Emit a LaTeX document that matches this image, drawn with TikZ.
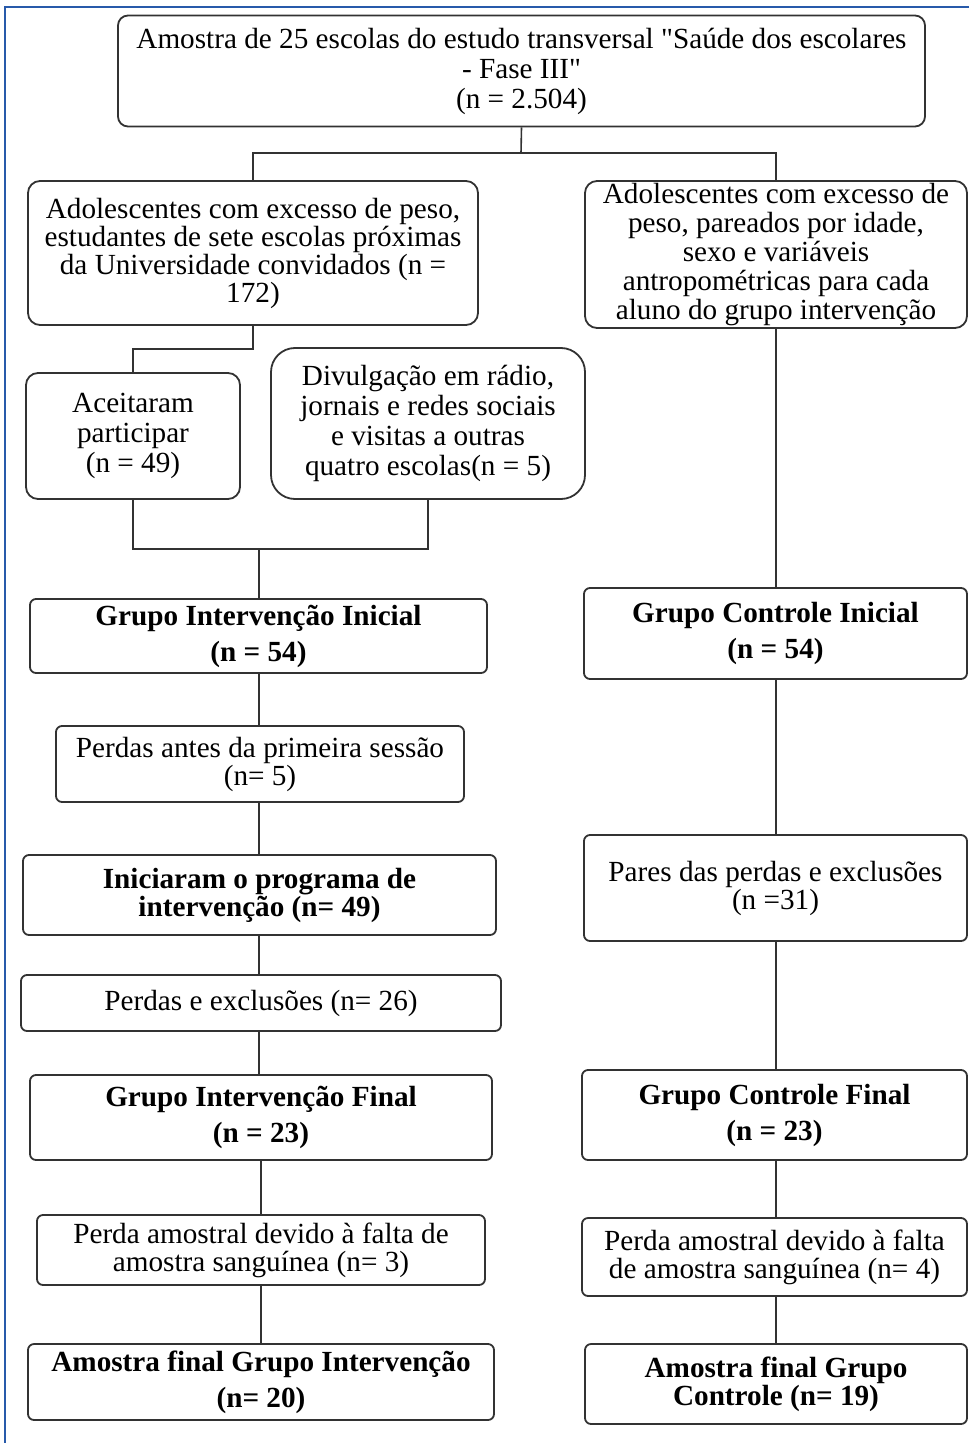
\documentclass[tikz,border=0pt]{standalone}
\usepackage{fontspec}
\setmainfont{Liberation Serif}[Ligatures=TeXOff]
\usetikzlibrary{positioning,calc}
\definecolor{frameblue}{RGB}{40,90,170}
\definecolor{edge}{RGB}{50,50,50}

\begin{document}
\begin{tikzpicture}[
    x=0.5pt, y=-0.5pt,
    box/.style={draw=edge, rounded corners=3pt, line width=0.9pt, align=center, inner sep=1pt, font=\fontsize{14.6}{14}\selectfont},
    bbox/.style={box, font=\fontsize{14.6}{14}\selectfont\bfseries},
    conn/.style={draw=edge, line width=0.8pt},
    frame/.style={draw=frameblue, line width=1pt},
]
\useasboundingbox (0,0) rectangle (969,1443);
\draw[frame] (969,7) -- (5,7) -- (5,1443);

% Top: full sample
\node[box, rounded corners=5pt, minimum width=807*0.5pt, minimum height=111*0.5pt] (sample) at (521.5,71) {Amostra de 25 escolas do estudo transversal "Saúde dos escolares\\[1pt]- Fase III"\\[1pt](n = 2.504)};

% Left: intervention branch
\node[box, rounded corners=6pt, minimum width=450*0.5pt, minimum height=144*0.5pt] (invited) at (253,253) {Adolescentes com excesso de peso,\\estudantes de sete escolas próximas\\da Universidade convidados (n =\\172)};
\node[box, rounded corners=6pt, minimum width=214*0.5pt, minimum height=126*0.5pt] (accepted) at (133,436) {Aceitaram\\[1pt]participar\\[1pt](n = 49)};
\node[box, rounded corners=12pt, minimum width=314*0.5pt, minimum height=151*0.5pt] (media) at (428,423.5) {Divulgação em rádio,\\[1pt]jornais e redes sociais\\[1pt]e visitas a outras\\[1pt]quatro escolas(n = 5)};
\node[bbox, minimum width=457*0.5pt, minimum height=74*0.5pt] (intini) at (258.5,636) {Grupo Intervenção Inicial\\[4pt](n = 54)};
\node[box, minimum width=408*0.5pt, minimum height=76*0.5pt] (lossfirst) at (260,764) {Perdas antes da primeira sessão\\(n= 5)};
\node[bbox, minimum width=473*0.5pt, minimum height=80*0.5pt] (started) at (259.5,895) {Iniciaram o programa de\\intervenção (n= 49)};
\node[box, minimum width=480*0.5pt, minimum height=56*0.5pt] (lossexcl) at (261,1003) {Perdas e exclusões (n= 26)};
\node[bbox, minimum width=462*0.5pt, minimum height=85*0.5pt] (intfin) at (261,1117.5) {Grupo Intervenção Final\\[4pt](n = 23)};
\node[box, minimum width=448*0.5pt, minimum height=70*0.5pt] (bloodint) at (261,1250) {Perda amostral devido à falta de\\amostra sanguínea (n= 3)};
\node[bbox, minimum width=466*0.5pt, minimum height=76*0.5pt] (finalint) at (261,1382) {Amostra final Grupo Intervenção\\[4pt](n= 20)};

% Right: control branch
\node[box, rounded corners=6pt, minimum width=382*0.5pt, minimum height=147*0.5pt] (matched) at (776,254.5) {Adolescentes com excesso de\\[0.5pt]peso, pareados por idade,\\[0.5pt]sexo e variáveis\\[0.5pt]antropométricas para cada\\[0.5pt]aluno do grupo intervenção};
\node[bbox, minimum width=383*0.5pt, minimum height=91*0.5pt] (ctlini) at (775.5,633.5) {Grupo Controle Inicial\\[4pt](n = 54)};
\node[box, minimum width=383*0.5pt, minimum height=106*0.5pt] (pairs) at (775.5,888) {Pares das perdas e exclusões\\(n =31)};
\node[bbox, minimum width=385*0.5pt, minimum height=90*0.5pt] (ctlfin) at (774.5,1115) {Grupo Controle Final\\[4pt](n = 23)};
\node[box, minimum width=385*0.5pt, minimum height=78*0.5pt] (bloodctl) at (774.5,1257) {Perda amostral devido à falta\\de amostra sanguínea (n= 4)};
\node[bbox, minimum width=382*0.5pt, minimum height=80*0.5pt] (finalctl) at (776,1384) {Amostra final Grupo\\Controle (n= 19)};

% Connectors
\coordinate (split) at (521,153);
\coordinate (merge) at (259,549);
\draw[conn] (sample.south) -- (split);
\draw[conn] (invited.north) |- (split) -| (matched.north);
\draw[conn] (invited.south) -- ++(0,23) -| (accepted.north);
\draw[conn] (accepted.south) |- (merge) -| (media.south);
\draw[conn] (merge) -- (merge |- intini.north);
\draw[conn] (intini.south -| merge) -- (merge |- lossfirst.north);
\draw[conn] (lossfirst.south -| merge) -- (merge |- started.north);
\draw[conn] (started.south -| merge) -- (merge |- lossexcl.north);
\draw[conn] (lossexcl.south -| merge) -- (merge |- intfin.north);
\draw[conn] (intfin.south) -- (intfin.south |- bloodint.north);
\draw[conn] (bloodint.south) -- (bloodint.south |- finalint.north);
\draw[conn] (matched.south) -- (matched.south |- ctlini.north);
\draw[conn] (ctlini.south -| matched.south) -- (matched.south |- pairs.north);
\draw[conn] (pairs.south -| matched.south) -- (matched.south |- ctlfin.north);
\draw[conn] (ctlfin.south -| matched.south) -- (matched.south |- bloodctl.north);
\draw[conn] (bloodctl.south -| matched.south) -- (matched.south |- finalctl.north);
\end{tikzpicture}
\end{document}
